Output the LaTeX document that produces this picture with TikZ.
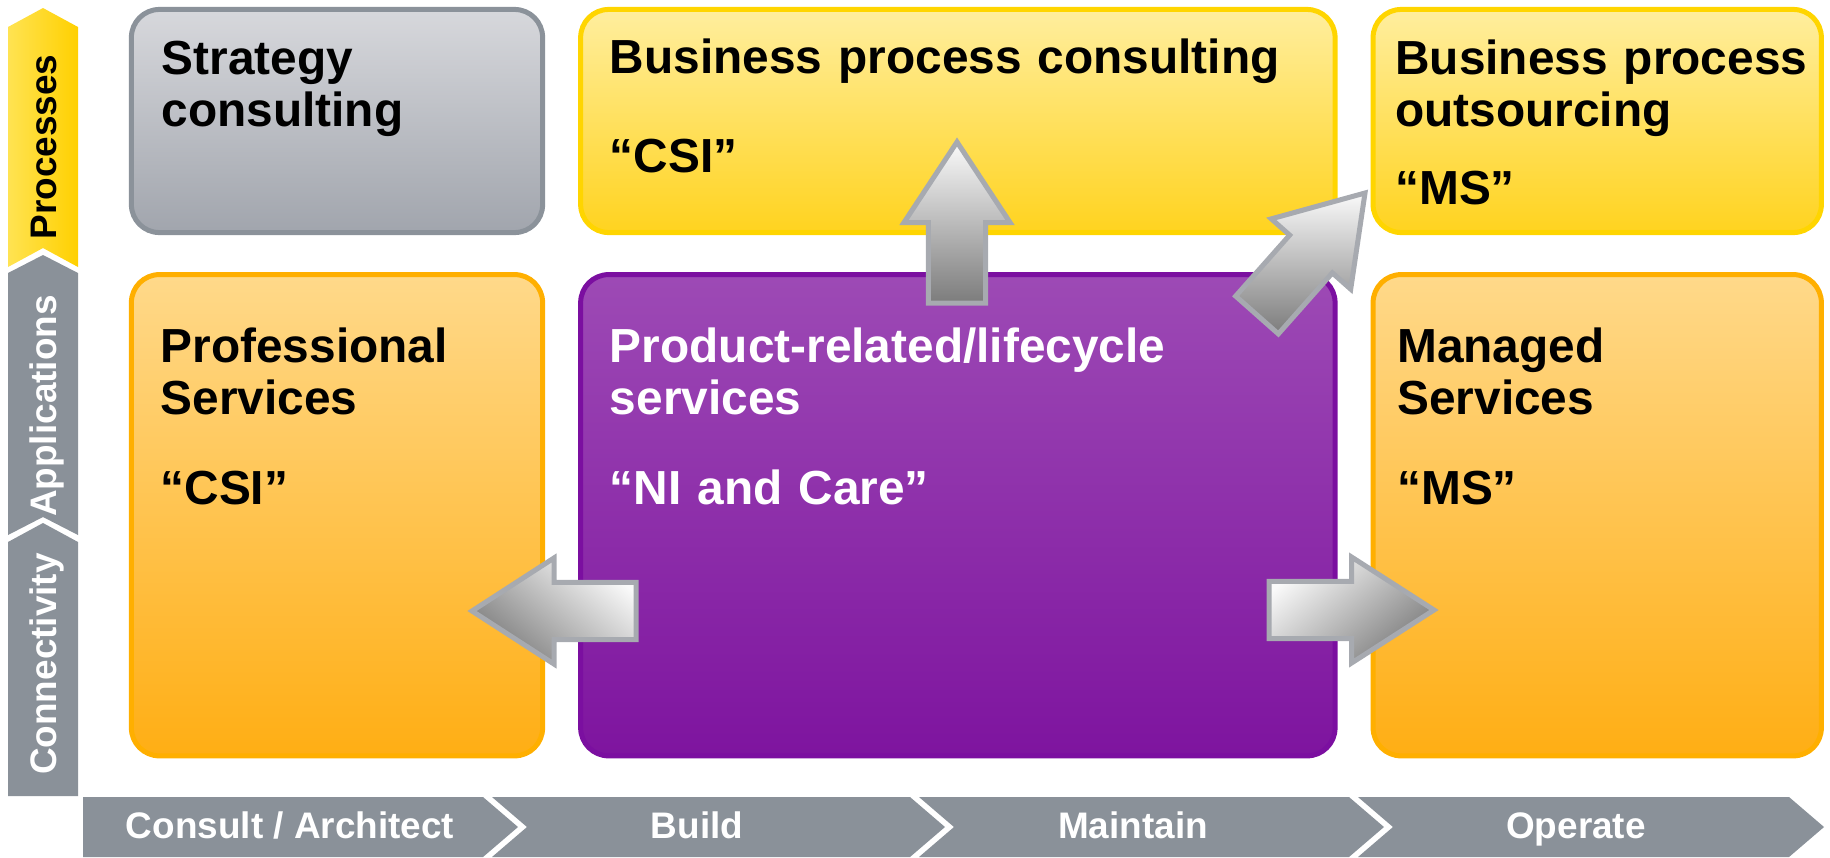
\documentclass[tikz,border=0pt]{standalone}
\usepackage{fontspec}
\setmainfont{Liberation Sans}
\usetikzlibrary{positioning, calc}

\definecolor{axisgrey}{HTML}{8A9199}
\definecolor{proclight}{HTML}{FFE352}
\definecolor{procdark}{HTML}{FFD000}
\definecolor{stratedge}{HTML}{8B929A}
\definecolor{strattop}{HTML}{D7D8DC}
\definecolor{stratbot}{HTML}{A1A5AD}
\definecolor{yeledge}{HTML}{FFD500}
\definecolor{yeltop}{HTML}{FFEE9E}
\definecolor{yelbot}{HTML}{FFD31F}
\definecolor{oraedge}{HTML}{FFAF00}
\definecolor{oratop}{HTML}{FFD98A}
\definecolor{orabot}{HTML}{FFAE14}
\definecolor{puredge}{HTML}{7B0FA0}
\definecolor{purtop}{HTML}{9D4AB5}
\definecolor{purbot}{HTML}{7E149F}
\definecolor{arrowedge}{HTML}{A7AAB0}
\definecolor{arrowlight}{HTML}{FAFAFA}
\definecolor{arrowdark}{HTML}{7C7C7C}

\begin{document}
\begin{tikzpicture}[
    x=0.01cm, y=-0.01cm,
    box/.style={rectangle, rounded corners=0.28cm, line width=0.05cm, inner sep=0pt},
    greybox/.style={box, draw=stratedge, top color=strattop, bottom color=stratbot},
    yellowbox/.style={box, draw=yeledge, top color=yeltop, bottom color=yelbot},
    orangebox/.style={box, draw=oraedge, top color=oratop, bottom color=orabot},
    purplebox/.style={box, draw=puredge, top color=purtop, bottom color=purbot},
    col1/.style={minimum width=4.11cm}, col2/.style={minimum width=7.54cm},
    col3/.style={minimum width=4.48cm},
    row1/.style={minimum height=2.23cm}, row2/.style={minimum height=4.81cm},
    boxtext/.style={anchor=base west, font=\fontsize{13.6}{14.8}\selectfont\bfseries,
        text width=7.2cm, align=left, inner sep=0pt},
    axislabel/.style={rotate=90, anchor=base, inner sep=0pt, text=white,
        font=\fontsize{10.5}{12}\selectfont\bfseries},
    barlabel/.style={anchor=base, inner sep=0pt, text=white,
        font=\fontsize{10.5}{12}\selectfont\bfseries},
    blockarrow/.style={draw=arrowedge, line width=0.05cm, line join=miter,
        top color=arrowlight, bottom color=arrowdark},
    node distance=0.37cm and 0.33cm
]
\useasboundingbox (0,0) rectangle (1830,857);

% left axis
\path[left color=proclight, right color=procdark]
    (8,27) -- (43,8) -- (78,27) -- (78,267) -- (43,248) -- (8,267) -- cycle;
\fill[axisgrey] (8,273) -- (43,255) -- (78,273) -- (78,535) -- (43,517) -- (8,535) -- cycle;
\fill[axisgrey] (8,542) -- (43,523) -- (78,542) -- (78,796) -- (8,796) -- cycle;
\node[axislabel, text=black] (processes) at (56,147) {Processes};
\node[axislabel] (applications) at (56,406) {Applications};
\node[axislabel] (connectivity) at (56,664) {Connectivity};

% bottom axis
\foreach \a/\b/\n in {83/483/0, 492/910/35, 919/1349/35, 1358/1789/35}
    \fill[axisgrey] (\a,797) -- (\b,797) -- (\b+35,827) -- (\b,857) -- (\a,857) -- (\a+\n,827) -- cycle;
\node[barlabel] (consult) at (290,838) {Consult / Architect};
\node[barlabel] (build) at (697,838) {Build};
\node[barlabel] (maintain) at (1133,838) {Maintain};
\node[barlabel] (operate) at (1576,838) {Operate};

% boxes
\node[greybox, col1, row1] (strategy) at (337,121) {};
\node[yellowbox, col2, row1, right=of strategy] (bpconsult) {};
\node[yellowbox, col3, row1, right=of bpconsult] (bpoutsource) {};
\node[orangebox, col1, row2, below=of strategy] (profserv) {};
\node[purplebox, col2, row2, below=of bpconsult] (product) {};
\node[orangebox, col3, row2, below=of bpoutsource] (managed) {};

\node[boxtext] (strategy-txt) at ([shift={(32,68)}]strategy.north west) {Strategy\\consulting};
\node[boxtext] (bpconsult-txt) at ([shift={(31,67)}]bpconsult.north west)
    {Business process consulting\\[0.46cm]“CSI”};
\node[boxtext] (bpoutsource-txt) at ([shift={(24,68)}]bpoutsource.north west)
    {Business process\\outsourcing\\[0.25cm]“MS”};
\node[boxtext] (profserv-txt) at ([shift={(31,90)}]profserv.north west)
    {Professional\\Services\\[0.38cm]“CSI”};
\node[boxtext, text=white] (product-txt) at ([shift={(31,90)}]product.north west)
    {Product-related/lifecycle\\services\\[0.38cm]“NI and Care”};
\node[boxtext] (managed-txt) at ([shift={(26,90)}]managed.north west)
    {Managed\\Services\\[0.38cm]“MS”};

% block arrows
\coordinate (left-tail) at (636,611);   \coordinate (left-tip) at (472,611);
\coordinate (right-tail) at (1269,610); \coordinate (right-tip) at (1434,610);
\coordinate (up-tail) at (957,303);     \coordinate (up-tip) at (957,142);
\coordinate (diag-tail) at (1257,315);  \coordinate (diag-tip) at (1365,193);

\foreach \t/\h/\ang in {left-tail/left-tip/-40, right-tail/right-tip/40,
                        up-tail/up-tip/0, diag-tail/diag-tip/0} {
    \coordinate (mid) at ($(\t)!0.5!(\h)$);
    \path[blockarrow, shading angle=\ang]
        ($(\t)!0.285cm!90:(\h)$) -- ($(mid)!0.285cm!90:(\h)$) -- ($(mid)!0.53cm!90:(\h)$)
        -- (\h) -- ($(mid)!0.53cm!-90:(\h)$) -- ($(mid)!0.285cm!-90:(\h)$)
        -- ($(\t)!0.285cm!-90:(\h)$) -- cycle;
}

\end{tikzpicture}
\end{document}
